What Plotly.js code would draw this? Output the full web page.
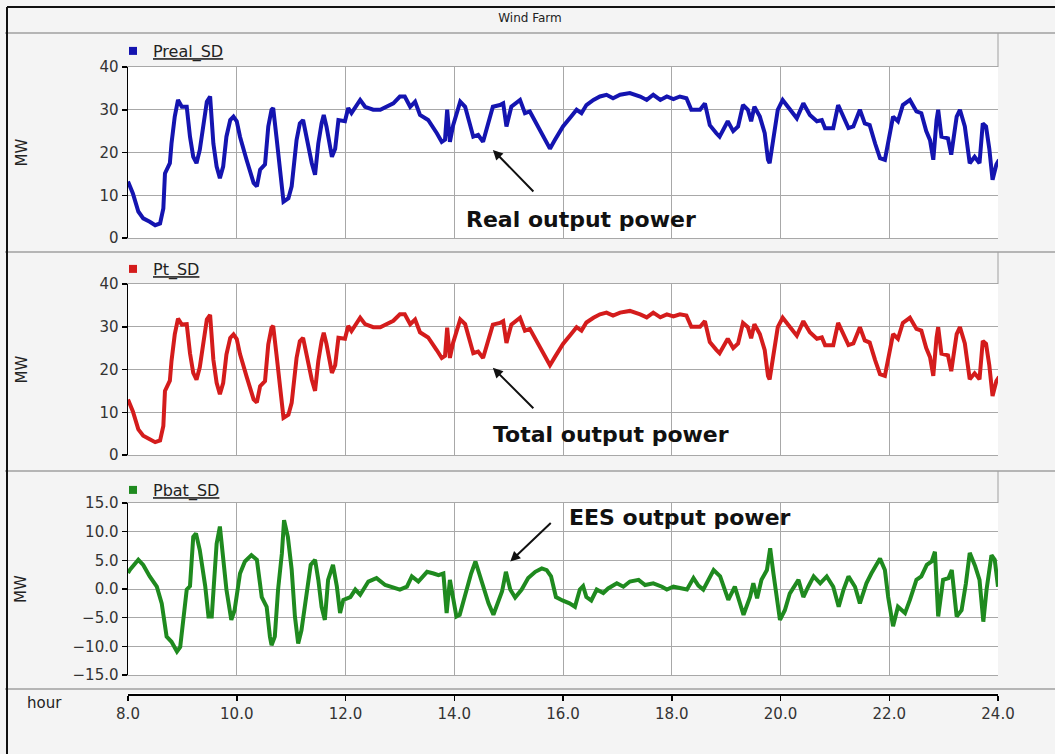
<!DOCTYPE html>
<html>
<head>
<meta charset="utf-8">
<script src="https://cdn.plot.ly/plotly-3.0.1.min.js"></script>
<style>
  html, body { margin: 0; padding: 0; background: #f4f4f4; }
  #chart { width: 1055px; height: 754px; }
</style>
</head>
<body>
<div id="chart"></div>
<script>
// Wind farm outputs over the day (hour, MW)
const hoursReal = [8.00,8.09,8.19,8.28,8.40,8.50,8.59,8.65,8.68,8.77,8.80,8.86,8.92,8.99,9.08,9.14,9.20,9.26,9.32,9.39,9.45,9.51,9.57,9.63,9.69,9.75,9.81,9.88,9.94,10.00,10.06,10.18,10.31,10.37,10.43,10.52,10.58,10.64,10.67,10.73,10.80,10.86,10.95,11.01,11.10,11.16,11.22,11.29,11.38,11.44,11.50,11.56,11.60,11.65,11.75,11.81,11.87,11.99,12.05,12.11,12.21,12.27,12.36,12.51,12.64,12.76,12.88,13.00,13.09,13.19,13.28,13.37,13.52,13.68,13.77,13.83,13.87,13.92,13.98,14.11,14.20,14.35,14.44,14.53,14.62,14.71,14.84,14.90,14.96,15.05,15.21,15.30,15.39,15.51,15.64,15.76,15.85,16.00,16.15,16.25,16.34,16.43,16.56,16.68,16.80,16.92,17.05,17.23,17.42,17.54,17.66,17.79,17.91,18.03,18.15,18.27,18.36,18.52,18.61,18.70,18.82,18.88,19.03,19.13,19.22,19.31,19.40,19.46,19.52,19.62,19.71,19.77,19.80,19.87,19.95,20.04,20.13,20.30,20.42,20.54,20.67,20.76,20.82,20.97,21.06,21.16,21.25,21.34,21.46,21.55,21.64,21.74,21.83,21.92,22.01,22.07,22.16,22.25,22.38,22.50,22.59,22.68,22.75,22.81,22.87,22.90,22.96,23.08,23.14,23.24,23.30,23.39,23.48,23.57,23.66,23.72,23.78,23.84,23.90,23.97,24.02];
const pReal = [13.2,10.4,6.2,4.6,3.8,3.0,3.4,6.9,15.1,17.5,22.1,28.4,32.3,30.7,30.7,23.7,19.0,17.5,20.6,27.6,31.9,33.1,22.1,16.7,14.0,16.7,23.7,27.6,28.4,27.3,23.7,18.3,12.9,12.1,16.0,17.2,26.1,30.0,30.4,23.7,14.4,8.5,9.3,12.1,22.9,26.8,27.6,22.9,17.5,14.8,22.1,26.8,28.8,26.1,19.0,20.9,27.6,27.3,30.4,29.2,31.1,32.3,30.7,30.0,30.0,30.7,31.5,33.1,33.1,30.7,31.9,28.8,27.6,24.5,22.5,23.0,30.0,22.5,26.4,31.9,30.7,23.7,24.1,22.5,26.4,30.7,31.1,31.5,26.1,30.7,32.3,29.2,29.6,26.8,23.7,20.9,22.9,26.1,28.4,30.0,29.2,31.1,32.3,33.1,33.5,32.7,33.5,33.9,33.1,32.3,33.5,32.3,33.1,32.5,33.1,32.7,30.0,30.0,31.5,26.4,24.5,23.7,27.3,25.0,26.1,31.1,30.0,27.3,30.7,28.4,24.5,18.3,17.5,22.9,30.0,32.3,30.7,28.0,31.5,28.8,27.3,27.6,25.7,25.7,31.1,28.4,25.7,26.1,30.0,26.8,26.4,22.1,18.7,18.3,24.5,28.4,27.3,31.1,32.3,29.6,29.2,25.0,22.9,18.3,27.6,30.0,23.7,23.3,19.5,28.4,30.0,26.1,17.5,19.0,17.5,26.8,26.1,20.9,13.6,17.2,18.3];

const hoursTotal = [8.00,8.09,8.19,8.28,8.40,8.50,8.59,8.65,8.68,8.77,8.80,8.86,8.92,8.99,9.08,9.14,9.20,9.26,9.32,9.39,9.45,9.51,9.57,9.63,9.69,9.75,9.81,9.88,9.94,10.00,10.06,10.18,10.31,10.37,10.43,10.52,10.58,10.64,10.67,10.73,10.80,10.86,10.95,11.01,11.10,11.16,11.22,11.29,11.38,11.44,11.50,11.56,11.60,11.65,11.75,11.81,11.87,11.99,12.05,12.11,12.21,12.27,12.36,12.51,12.64,12.76,12.88,13.00,13.09,13.19,13.28,13.37,13.52,13.68,13.77,13.83,13.87,13.92,13.98,14.11,14.20,14.35,14.44,14.53,14.62,14.71,14.84,14.90,14.96,15.05,15.21,15.30,15.39,15.51,15.64,15.76,15.85,16.00,16.15,16.25,16.34,16.43,16.56,16.68,16.80,16.92,17.05,17.23,17.42,17.54,17.66,17.79,17.91,18.03,18.15,18.27,18.36,18.52,18.61,18.70,18.82,18.88,19.03,19.13,19.22,19.31,19.40,19.46,19.52,19.62,19.71,19.77,19.80,19.87,19.95,20.04,20.13,20.30,20.42,20.54,20.67,20.76,20.82,20.97,21.06,21.16,21.25,21.34,21.46,21.55,21.64,21.74,21.83,21.92,22.01,22.07,22.16,22.25,22.38,22.50,22.59,22.68,22.75,22.81,22.87,22.90,22.96,23.08,23.14,23.24,23.30,23.39,23.48,23.57,23.66,23.72,23.78,23.84,23.90,23.97,24.02];
const pTotal = [13.0,10.2,6.0,4.5,3.7,3.0,3.4,6.8,15.0,17.4,22.0,28.2,31.9,30.5,30.6,23.8,19.2,17.6,20.5,27.4,31.7,32.8,22.3,16.9,14.2,16.8,23.5,27.4,28.2,27.1,23.6,18.4,13.0,12.3,16.1,17.3,25.9,29.8,30.2,23.6,14.6,8.7,9.4,12.2,22.7,26.6,27.4,22.8,17.6,15.0,22.0,26.6,28.6,26.0,19.2,21.0,27.4,27.2,30.2,29.0,30.9,32.1,30.6,29.9,29.9,30.6,31.4,32.9,32.9,30.6,31.7,28.7,27.5,24.5,22.7,23.2,29.8,22.7,26.3,31.7,30.6,23.8,24.2,22.7,26.3,30.5,30.9,31.3,26.2,30.5,32.1,29.1,29.5,26.7,23.7,21.0,22.9,26.0,28.3,29.9,29.1,31.0,32.1,32.9,33.3,32.6,33.3,33.7,32.9,32.2,33.3,32.2,32.9,32.4,32.9,32.6,30.0,30.0,31.3,26.4,24.6,23.8,27.2,25.0,26.1,30.9,29.9,27.3,30.6,28.3,24.5,18.5,17.7,22.9,29.9,32.1,30.6,27.9,31.3,28.7,27.2,27.5,25.7,25.7,30.9,28.3,25.7,26.1,29.9,26.8,26.3,22.2,18.9,18.5,24.5,28.3,27.2,30.9,32.1,29.5,29.1,25.0,22.9,18.5,27.5,29.9,23.7,23.3,19.6,28.3,29.9,26.1,17.7,19.1,17.7,26.7,26.0,21.0,13.8,17.3,18.3];

const hoursBat = [8.00,8.04,8.19,8.28,8.40,8.53,8.62,8.71,8.80,8.90,8.96,9.02,9.08,9.14,9.20,9.25,9.32,9.42,9.48,9.54,9.63,9.69,9.75,9.81,9.90,9.96,10.06,10.15,10.27,10.37,10.46,10.55,10.61,10.64,10.70,10.76,10.83,10.87,10.94,11.01,11.07,11.13,11.19,11.28,11.36,11.44,11.50,11.56,11.62,11.68,11.77,11.84,11.90,11.96,12.09,12.18,12.27,12.42,12.57,12.73,12.85,13.00,13.13,13.22,13.34,13.50,13.62,13.71,13.80,13.86,13.92,13.98,14.04,14.10,14.19,14.31,14.39,14.46,14.55,14.63,14.72,14.78,14.88,14.95,15.03,15.12,15.24,15.36,15.49,15.61,15.70,15.78,15.87,15.99,16.12,16.22,16.31,16.37,16.43,16.52,16.62,16.74,16.83,16.99,17.11,17.23,17.39,17.51,17.66,17.82,17.91,18.03,18.15,18.28,18.40,18.49,18.58,18.77,18.89,19.04,19.16,19.32,19.44,19.50,19.57,19.65,19.75,19.81,19.87,19.93,19.99,20.08,20.17,20.33,20.42,20.51,20.61,20.73,20.85,20.97,21.07,21.16,21.25,21.37,21.46,21.58,21.67,21.83,21.92,21.98,22.07,22.16,22.29,22.38,22.50,22.59,22.69,22.78,22.84,22.90,22.99,23.09,23.15,23.24,23.33,23.41,23.48,23.58,23.66,23.73,23.79,23.88,23.94,24.00];
const pBat = [2.8,3.4,5.1,4.2,2.2,0.4,-2.5,-8.3,-9.2,-10.9,-10.1,-4.8,-0.1,0.5,9.1,9.7,6.8,0.5,-4.8,-4.8,7.9,10.9,5.1,-0.1,-5.4,-3.7,2.7,4.8,5.9,5.1,-1.4,-3.1,-8.3,-9.8,-8.3,-0.1,6.2,12.0,9.1,3.4,-4.8,-9.5,-7.2,-0.7,4.2,5.1,1.6,-3.1,-5.4,1.6,4.2,0.5,-4.2,-1.9,-1.4,-0.1,-1.0,1.3,1.9,0.7,0.4,-0.1,0.4,2.2,1.3,3.0,2.7,2.4,2.7,-4.2,1.6,-1.4,-4.8,-4.5,-1.4,2.7,4.8,2.7,0.4,-2.5,-4.5,-2.8,-0.4,3.0,-0.1,-1.5,-0.1,1.9,3.0,3.6,3.3,2.2,-1.4,-2.0,-2.5,-3.1,-0.1,0.5,-1.4,-2.0,-0.1,-0.7,0.1,1.0,0.4,1.3,1.6,0.7,1.0,0.4,-0.1,0.4,0.1,-0.1,1.9,0.6,-0.1,3.3,2.2,-1.9,0.4,-4.5,-1.4,1.0,-1.6,1.6,3.3,7.1,2.7,-1.9,-5.4,-3.7,-0.8,1.6,-1.4,0.4,2.2,1.0,2.2,0.4,-3.1,-0.1,2.2,0.4,-2.5,1.0,2.7,5.3,3.3,-1.4,-6.5,-3.1,-4.2,-1.9,1.6,2.2,4.2,4.8,6.5,-4.8,1.6,1.9,3.3,-4.8,-3.7,1.0,6.3,4.0,1.6,-5.7,-0.1,5.9,5.1,0.4];

const seriesNames = ['Preal_SD', 'Pt_SD', 'Pbat_SD'];
const seriesColors = ['#1414b0', '#d41c1c', '#1f8a1f'];

// page geometry (pixels) -> paper fractions
const W = 1055, H = 754, L = 128, R = 57;
const PW = W - L - R;
const px = v => (v - L) / PW;
const py = v => 1 - v / H;

const tickFont = { family: 'DejaVu Sans', size: 15, color: '#333' };
const gridColor = '#a8a8a8';

function panelX(anchor) {
  return {
    domain: [0, 1], anchor: anchor, range: [8, 24], tick0: 8, dtick: 2,
    showticklabels: false, ticks: '', showgrid: true, gridcolor: gridColor,
    gridwidth: 1, zeroline: false, showline: true, linecolor: gridColor,
    linewidth: 1, mirror: true, fixedrange: true
  };
}

function panelY(anchor, top, bottom, range, dtick, fmt, standoff) {
  return {
    domain: [py(bottom), py(top)], anchor: anchor, range: range, tick0: 0,
    dtick: dtick, tickformat: fmt, showline: true, linecolor: '#000',
    linewidth: 1.5, ticks: 'outside', ticklen: 5, tickwidth: 1.5,
    tickcolor: '#000', showgrid: true, gridcolor: gridColor, gridwidth: 1,
    zeroline: false, tickfont: tickFont, fixedrange: true,
    title: { text: 'MW', standoff: standoff,
             font: { family: 'DejaVu Sans', size: 15, color: '#222' } }
  };
}

function lineTrace(xs, ys, idx, xa, ya) {
  return {
    x: xs, y: ys, xaxis: xa, yaxis: ya, type: 'scatter', mode: 'lines',
    line: { color: seriesColors[idx], width: 4 },
    name: seriesNames[idx], showlegend: false, hoverinfo: 'x+y'
  };
}

function keyTrace(idx, xa, ya, legendId) {
  return {
    x: [null], y: [null], xaxis: xa, yaxis: ya, type: 'scatter',
    mode: 'markers', marker: { symbol: 'square', size: 8, color: seriesColors[idx] },
    name: '<u>' + seriesNames[idx] + '</u>', legend: legendId, showlegend: true
  };
}

const data = [
  lineTrace(hoursReal, pReal, 0, 'x', 'y'),
  lineTrace(hoursTotal, pTotal, 1, 'x2', 'y2'),
  lineTrace(hoursBat, pBat, 2, 'x3', 'y3'),
  keyTrace(0, 'x', 'y', 'legend'),
  keyTrace(1, 'x2', 'y2', 'legend2'),
  keyTrace(2, 'x3', 'y3', 'legend3'),
  // shared time axis under the panels
  { x: [], y: [], xaxis: 'x4', yaxis: 'y4', type: 'scatter', mode: 'lines',
    showlegend: false, hoverinfo: 'skip' }
];

function legendAt(yCenter) {
  return {
    x: px(113), xanchor: 'left', y: py(yCenter), yanchor: 'middle',
    bgcolor: 'rgba(0,0,0,0)', borderwidth: 0,
    font: { family: 'DejaVu Sans', size: 16, color: '#222' },
    itemclick: false, itemdoubleclick: false
  };
}

const sepColor = '#a0a0a0';
const shapes = [];
[33, 252, 471, 689].forEach(yy => shapes.push({
  type: 'line', xref: 'paper', yref: 'paper',
  x0: px(5), x1: px(1055), y0: py(yy), y1: py(yy),
  line: { color: sepColor, width: 1.5 }
}));
[[33, 67], [252, 284], [471, 503]].forEach(([a, b]) => shapes.push({
  type: 'line', xref: 'paper', yref: 'paper',
  x0: px(998), x1: px(998), y0: py(a), y1: py(b),
  line: { color: sepColor, width: 1 }
}));
// outer frame (left and top edges)
shapes.push({ type: 'line', xref: 'paper', yref: 'paper',
  x0: px(7), x1: px(7), y0: py(7), y1: py(754), line: { color: '#111', width: 2 } });
shapes.push({ type: 'line', xref: 'paper', yref: 'paper',
  x0: px(7), x1: px(1055), y0: py(7), y1: py(7), line: { color: '#111', width: 2 } });

const noteFont = { family: 'DejaVu Sans', size: 22, color: '#111', weight: 'bold' };
const arrowStyle = { text: '', showarrow: true, arrowhead: 2, arrowsize: 1,
                     arrowwidth: 2, arrowcolor: '#111' };

const annotations = [
  Object.assign({ x: 14.71, y: 20.6, xref: 'x', yref: 'y', ax: 42, ay: 43 }, arrowStyle),
  Object.assign({ x: 14.71, y: 20.4, xref: 'x2', yref: 'y2', ax: 42, ay: 42 }, arrowStyle),
  Object.assign({ x: 15.03, y: 4.8, xref: 'x3', yref: 'y3', ax: 42, ay: -40 }, arrowStyle),
  { text: 'Real output power', x: 16.34, y: 4.4, xref: 'x', yref: 'y',
    xanchor: 'center', yanchor: 'middle', showarrow: false, font: noteFont },
  { text: 'Total output power', x: 16.88, y: 4.7, xref: 'x2', yref: 'y2',
    xanchor: 'center', yanchor: 'middle', showarrow: false, font: noteFont },
  { text: 'EES output power', x: 18.15, y: 12.4, xref: 'x3', yref: 'y3',
    xanchor: 'center', yanchor: 'middle', showarrow: false, font: noteFont },
  { text: 'hour', xref: 'paper', yref: 'paper', x: px(44), y: py(703),
    xanchor: 'center', yanchor: 'middle', showarrow: false,
    font: { family: 'DejaVu Sans', size: 15, color: '#222' } }
];

const layout = {
  width: W, height: H,
  margin: { l: L, r: R, t: 0, b: 0, pad: 0 },
  paper_bgcolor: '#f4f4f4', plot_bgcolor: '#ffffff',
  title: { text: 'Wind Farm', xref: 'container', yref: 'container',
           x: 530 / W, xanchor: 'center', y: 1 - 18 / H, yanchor: 'middle',
           font: { family: 'DejaVu Sans', size: 12, color: '#222' } },
  xaxis: panelX('y'),
  xaxis2: panelX('y2'),
  xaxis3: panelX('y3'),
  yaxis: panelY('x', 67, 238, [0, 40], 10, 'd', 68),
  yaxis2: panelY('x2', 284, 455, [0, 40], 10, 'd', 68),
  yaxis3: panelY('x3', 503, 675, [-15, 15], 5, '.1f', 42),
  xaxis4: {
    domain: [0, 1], anchor: 'y4', range: [8, 24], tick0: 8, dtick: 2,
    tickformat: '.1f', ticks: 'outside', ticklen: 5, tickwidth: 1.5,
    tickcolor: '#000', showline: true, linecolor: '#000', linewidth: 1.5,
    showgrid: false, zeroline: false, tickfont: tickFont, fixedrange: true
  },
  yaxis4: { domain: [py(694), py(693)], anchor: 'x4', range: [0, 1],
            visible: false, fixedrange: true },
  legend: legendAt(51),
  legend2: legendAt(269),
  legend3: legendAt(490),
  shapes: shapes,
  annotations: annotations,
  showlegend: true
};

Plotly.newPlot('chart', data, layout, { displayModeBar: false, staticPlot: true });
</script>
</body>
</html>
